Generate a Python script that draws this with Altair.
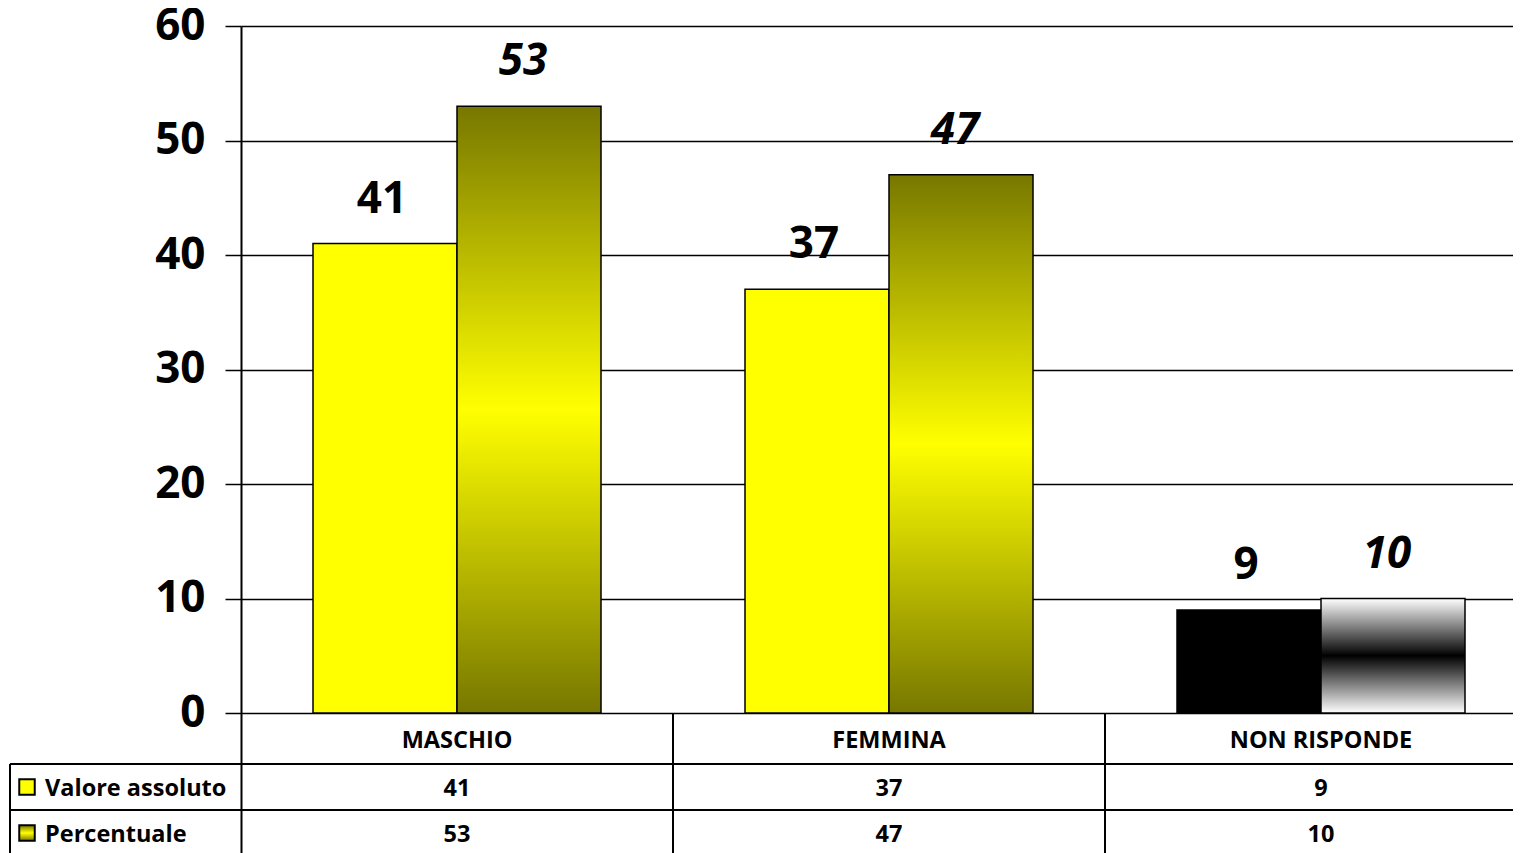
import altair as alt
import pandas as pd

# ---- data ----
categories = ["MASCHIO", "FEMMINA", "NON RISPONDE"]
series_names = ["Valore assoluto", "Percentuale"]
valore_assoluto = [41, 37, 9]
percentuale = [53, 47, 10]
y_ticks = [0, 10, 20, 30, 40, 50, 60]

records = []
for ci, cat in enumerate(categories):
    for si, vals in enumerate([valore_assoluto, percentuale]):
        records.append({"cat": cat, "ci": ci, "series": series_names[si], "si": si, "value": vals[ci]})
df = pd.DataFrame(records)
df_cats = pd.DataFrame({"cat": categories, "ci": list(range(len(categories)))})
df_series = pd.DataFrame({"series": series_names, "si": list(range(len(series_names)))})

# ---- layout ----
PX_PER_UNIT = 687 / 60
CAT_PX = 432
W = 1272
H = 827
XMAX = W / CAT_PX
YMIN = -(H - 60 * PX_PER_UNIT) / PX_PER_UNIT
HEAD = 51 / PX_PER_UNIT
ROW = 46 / PX_PER_UNIT
LEFT = -231 / CAT_PX
TEXT_LEFT = -196 / CAT_PX
KEY_X = -214 / CAT_PX
ROW_Y0 = -(HEAD + ROW / 2)
ROW_Y1 = -(HEAD + 1.5 * ROW)

FONT = "Open Sans"

olive = alt.LinearGradient(
    gradient="linear",
    stops=[alt.GradientStop(color="#777700", offset=0),
           alt.GradientStop(color="#FFFF00", offset=0.5),
           alt.GradientStop(color="#777700", offset=1)],
    x1=0, x2=0, y1=0, y2=1)
bw = alt.LinearGradient(
    gradient="linear",
    stops=[alt.GradientStop(color="#FFFFFF", offset=0),
           alt.GradientStop(color="#000000", offset=0.5),
           alt.GradientStop(color="#FFFFFF", offset=1)],
    x1=0, x2=0, y1=0, y2=1)

xs = alt.Scale(domain=[0, XMAX], nice=False, zero=False)
ys = alt.Scale(domain=[YMIN, 60], nice=False, zero=False)

yaxis = alt.Axis(values=y_ticks, grid=True, gridColor="black", gridWidth=1.5,
                 domainColor="black", domainWidth=2, tickColor="black", tickWidth=1.5,
                 tickSize=16, labelFont=FONT, labelFontSize=44, labelFontWeight="bold",
                 labelColor="black", labelPadding=20, title=None)


def X(f):
    return alt.X(f, type="quantitative", scale=xs, axis=None, title=None)


def Y(f):
    return alt.Y(f, type="quantitative", scale=ys, axis=yaxis, title=None)


base = alt.Chart(df).transform_calculate(
    x0="datum.ci + 1/6 + datum.si/3",
    x1="datum.ci + 1/2 + datum.si/3",
    xc="datum.ci + 1/3 + datum.si/3",
    cc="datum.ci + 0.5",
    zero="0",
    ry=f"datum.si == 0 ? {ROW_Y0} : {ROW_Y1}",
)

bar_kw = dict(stroke="black", strokeWidth=1.5)
bars_yellow = base.transform_filter("datum.si == 0 && datum.ci < 2").mark_rect(fill="#FFFF00", **bar_kw).encode(
    x=X("x0"), x2="x1", y=Y("value"), y2="zero:Q")
bars_black = base.transform_filter("datum.si == 0 && datum.ci == 2").mark_rect(fill="#000000", **bar_kw).encode(
    x=X("x0"), x2="x1", y=Y("value"), y2="zero:Q")
bars_olive = base.transform_filter("datum.si == 1 && datum.ci < 2").mark_rect(fill=olive, **bar_kw).encode(
    x=X("x0"), x2="x1", y=Y("value"), y2="zero:Q")
bars_bw = base.transform_filter("datum.si == 1 && datum.ci == 2").mark_rect(fill=bw, **bar_kw).encode(
    x=X("x0"), x2="x1", y=Y("value"), y2="zero:Q")

lbl_kw = dict(font=FONT, fontSize=44, fontWeight="bold", color="black", baseline="alphabetic", dy=-31)
labels_v = base.transform_filter("datum.si == 0").mark_text(dx=-3, **lbl_kw).encode(
    x=X("xc"), y=Y("value"), text="value:Q")
labels_p = base.transform_filter("datum.si == 1").mark_text(fontStyle="italic", dx=-6, **lbl_kw).encode(
    x=X("xc"), y=Y("value"), text="value:Q")

tbl_kw = dict(font=FONT, fontSize=23.5, fontWeight="bold", color="black", baseline="middle")
table_vals = base.mark_text(dy=2, **tbl_kw).encode(x=X("cc"), y=Y("ry"), text="value:Q")

headers = alt.Chart(df_cats).transform_calculate(
    cc="datum.ci + 0.5", ry=str(-HEAD / 2)
).mark_text(dy=2, **tbl_kw).encode(x=X("cc"), y=Y("ry"), text="cat:N")

row_labels = alt.Chart(df_series).transform_calculate(
    lx=str(TEXT_LEFT), ry=f"datum.si == 0 ? {ROW_Y0} : {ROW_Y1}"
).mark_text(align="left", dy=2, **tbl_kw).encode(x=X("lx"), y=Y("ry"), text="series:N")

key_base = alt.Chart(df_series).transform_calculate(
    kx=str(KEY_X), ry=f"datum.si == 0 ? {ROW_Y0} : {ROW_Y1}")
key_v = key_base.transform_filter("datum.si == 0").mark_square(
    size=240, fill="#FFFF00", stroke="black", strokeWidth=2, opacity=1).encode(x=X("kx"), y=Y("ry"))
key_p = key_base.transform_filter("datum.si == 1").mark_square(
    size=240, fill=olive, stroke="black", strokeWidth=2, opacity=1).encode(x=X("kx"), y=Y("ry"))

hlines = pd.DataFrame({"x0": [LEFT, LEFT], "x1": [XMAX, XMAX], "y": [-HEAD, -(HEAD + ROW)]})
vlines = pd.DataFrame({"x": [LEFT, 1, 2], "y0": [-HEAD, 0, 0], "y1": [YMIN, YMIN, YMIN]})

h_rules = alt.Chart(hlines).mark_rule(color="black", strokeWidth=2).encode(
    x=X("x0"), x2="x1", y=Y("y"))
v_rules = alt.Chart(vlines).mark_rule(color="black", strokeWidth=2).encode(
    x=X("x"), y=Y("y0"), y2="y1:Q")

chart = alt.layer(
    bars_yellow, bars_black, bars_olive, bars_bw,
    labels_v, labels_p,
    h_rules, v_rules,
    headers, table_vals, row_labels, key_v, key_p,
).properties(
    width=W, height=H,
    padding={"left": 233, "top": 18, "right": 0, "bottom": 0},
    autosize=alt.AutoSizeParams(type="none"),
    background="white",
).configure_view(strokeWidth=0)

chart.save("out.html", embed_options={"renderer": "svg", "actions": False})
